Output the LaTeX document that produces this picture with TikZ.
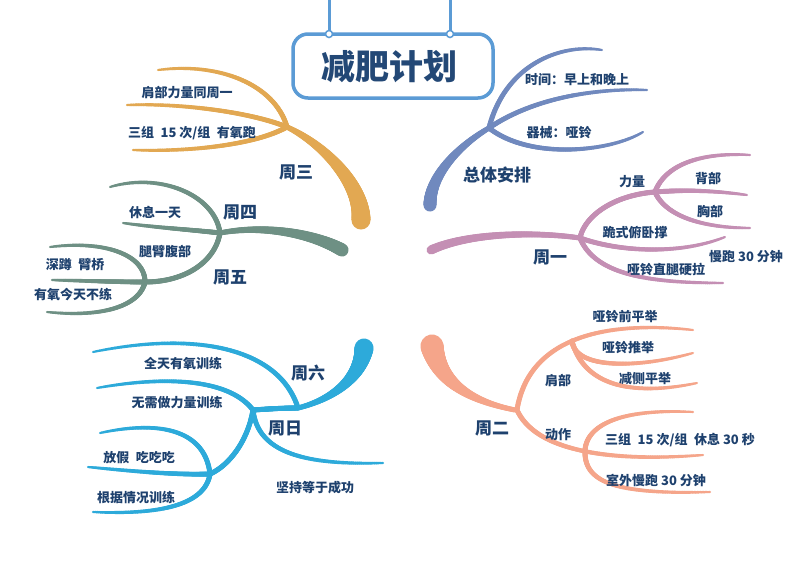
\documentclass[tikz,border=0pt]{standalone}
\usepackage{fontspec}
\setmainfont{Noto Sans CJK SC}
\definecolor{gold}{RGB}{226,168,82}
\definecolor{sage}{RGB}{110,144,132}
\definecolor{slate}{RGB}{112,137,190}
\definecolor{mauve}{RGB}{196,143,180}
\definecolor{salmonc}{RGB}{245,165,138}
\definecolor{cyanc}{RGB}{45,170,218}
\definecolor{boxblue}{RGB}{91,155,213}
\definecolor{navy}{RGB}{30,65,110}
\definecolor{titlenavy}{RGB}{35,72,118}
\makeatletter
\def\br@parse#1,#2,#3,#4,#5,#6,#7,#8\relax{%
 \def\brAx{#1}\def\brAy{#2}\def\brBx{#3}\def\brBy{#4}%
 \def\brCx{#5}\def\brCy{#6}\def\brDx{#7}\def\brDy{#8}}
\newcommand\brush[5]{%
 \br@parse#5\relax
 \foreach \brI in {0,...,100}{%
  \pgfmathsetmacro\brT{\brI/100}%
  \pgfmathsetmacro\brU{1-\brT}%
  \pgfmathsetmacro\brX{\brU*\brU*\brU*\brAx+3*\brU*\brU*\brT*\brBx+3*\brU*\brT*\brT*\brCx+\brT*\brT*\brT*\brDx}%
  \pgfmathsetmacro\brY{\brU*\brU*\brU*\brAy+3*\brU*\brU*\brT*\brBy+3*\brU*\brT*\brT*\brCy+\brT*\brT*\brT*\brDy}%
  \pgfmathsetmacro\brW{#2+(#3-#2)*pow(\brT+0.001,#4)}%
  \ifnum\brI>0
   \draw[#1,line width=\brW pt,line cap=round] (\brPX,\brPY) -- (\brX,\brY);
  \fi
  \xdef\brPX{\brX}\xdef\brPY{\brY}%
 }}
\makeatother
\tikzset{
 lab/.style={text=navy,font=\bfseries\fontsize{13}{15}\selectfont,inner sep=0pt},
 head/.style={text=navy,font=\bfseries\fontsize{17}{19}\selectfont,inner sep=0pt},
 titlebox/.style={draw=boxblue,line width=3.5pt,fill=white,rounded corners=15pt},
 hanger/.style={draw=boxblue,line width=3pt},
 ring/.style={draw=boxblue,line width=1.5pt,fill=white}
}
\begin{document}
\begin{tikzpicture}[x=1pt,y=-1pt]
\useasboundingbox (0,0) rectangle (800,566);
\fill[white] (0,0) rectangle (800,566);

% ---- gold: 周三
\brush{gold}{5}{19}{1.1}{287,127,325,145,362,185,361,220}
\brush{gold}{1.5}{5}{0.4}{158,70,220,62,275,85,287,127}
\brush{gold}{1.5}{5}{0.4}{127,105,180,103,250,112,287,127}
\brush{gold}{1.5}{5}{0.4}{133,150,190,152,255,145,287,127}

% ---- sage: 周四 / 周五
\brush{sage}{5}{13}{1.3}{220,233,260,225,310,232,342,250}
\brush{sage}{1.5}{5}{0.4}{110,187,160,172,215,195,220,233}
\brush{sage}{1.5}{5}{0.4}{123,223,160,228,195,230,220,233}
\brush{sage}{5}{5}{1}{145,282,185,282,215,262,220,233}
\brush{sage}{1.5}{5}{0.4}{50,247,105,240,145,255,145,282}
\brush{sage}{1.5}{5}{0.4}{52,280,90,281,120,282,145,282}
\brush{sage}{1.5}{5}{0.4}{47,312,105,318,140,305,145,282}

% ---- slate: 总体安排
\brush{slate}{5}{13}{1.2}{489,128,460,145,430,175,430,205}
\brush{slate}{1.5}{5}{0.4}{602,50,560,43,505,65,489,128}
\brush{slate}{1.5}{5}{0.4}{647,90,590,88,530,100,489,128}
\brush{slate}{1.5}{5}{0.4}{643,132,610,152,530,160,489,128}

% ---- mauve: 周一
\brush{mauve}{5}{9}{1.4}{580,238,540,232,470,232,431,250}
\brush{mauve}{5}{5}{1}{655,192,615,195,585,215,580,238}
\brush{mauve}{1.5}{5}{0.4}{750,155,700,152,665,165,655,192}
\brush{mauve}{1.5}{5}{0.4}{747,195,710,190,680,190,655,192}
\brush{mauve}{1.5}{5}{0.4}{750,228,700,228,665,215,655,192}
\brush{mauve}{1.5}{5}{0.4}{725,237,680,255,620,252,580,238}
\brush{mauve}{1.5}{5}{0.4}{723,283,650,283,595,275,580,238}

% ---- salmon: 周二
\brush{salmonc}{5}{23}{1.9}{515,410,475,402,440,385,432,346}
\brush{salmonc}{1.5}{5}{0.4}{693,330,620,322,530,330,517,410}
\brush{salmonc}{1.5}{5}{0.4}{693,353,640,368,575,370,572,341}
\brush{salmonc}{1.5}{5}{0.4}{697,383,640,395,585,390,572,341}
\brush{salmonc}{1.5}{5}{0.4}{703,455,640,460,540,460,517,410}
\brush{salmonc}{1.5}{5}{0.4}{693,412,610,408,585,430,585,452}
\brush{salmonc}{1.5}{5}{0.4}{710,492,610,495,585,480,585,452}

% ---- cyan: 周六 / 周日
\brush{cyanc}{5}{19}{1.8}{298,408,330,400,360,380,364,348}
\brush{cyanc}{1.5}{5}{0.4}{93,352,200,330,280,350,298,408}
\brush{cyanc}{5}{5}{1}{253,410,268,409,283,408,298,408}
\brush{cyanc}{1.5}{5}{0.4}{97,388,170,375,230,380,253,410}
\brush{cyanc}{1.5}{5}{0.4}{383,463,310,465,258,455,253,410}
\brush{cyanc}{5}{5}{1}{210,474,230,465,248,440,253,410}
\brush{cyanc}{1.5}{5}{0.4}{100,433,160,420,205,430,210,474}
\brush{cyanc}{1.5}{5}{0.4}{88,467,140,472,180,475,210,474}
\brush{cyanc}{1.5}{5}{0.4}{93,512,160,515,205,505,210,474}

% ---- title
\coordinate (hL) at (329,0);
\coordinate (hR) at (450,0);
\coordinate (kL) at (329,34);
\coordinate (kR) at (450,34);
\draw[hanger] (hL) -- (kL);
\draw[hanger] (hR) -- (kR);
\path[titlebox] (293,34) rectangle (493,98);
\node[ring,circle,inner sep=0pt,minimum size=7pt] (ringL) at (kL) {};
\node[ring,circle,inner sep=0pt,minimum size=7pt] (ringR) at (kR) {};
\node[text=titlenavy,font=\bfseries\fontsize{34}{36}\selectfont,inner sep=0pt] (title) at (389,67) {减肥计划};

% ---- labels
\node[lab] (wed1) at (187,93) {肩部力量同周一};
\node[lab] (wed2) at (192,133) {三组\hspace{0.5em}15 次/组\hspace{0.5em}有氧跑};
\node[head] (wed) at (296,172) {周三};
\node[lab] (thu1) at (155,212) {休息一天};
\node[head] (thu) at (240,212) {周四};
\node[lab] (fri0) at (165,252) {腿臂腹部};
\node[head] (fri) at (230,277) {周五};
\node[lab] (fri1) at (75,265) {深蹲\hspace{0.5em}臂桥};
\node[lab] (fri2) at (73,295) {有氧今天不练};

\node[lab] (all1) at (577,80) {时间：早上和晚上};
\node[lab] (all2) at (559,133) {器械：哑铃};
\node[head] (all) at (497,175) {总体安排};

\node[lab] (mon1) at (632,182) {力量};
\node[lab] (mon11) at (708,178) {背部};
\node[lab] (mon12) at (710,212) {胸部};
\node[lab] (mon2) at (635,233) {跪式俯卧撑};
\node[head] (mon) at (550,257) {周一};
\node[lab] (mon3) at (746,257) {慢跑 30 分钟};
\node[lab] (mon4) at (666,270) {哑铃直腿硬拉};

\node[lab] (tue11) at (625,317) {哑铃前平举};
\node[lab] (tue12) at (628,348) {哑铃推举};
\node[lab] (tue13) at (645,379) {减侧平举};
\node[lab] (tue1) at (558,380) {肩部};
\node[head] (tue) at (492,428) {周二};
\node[lab] (tue2) at (558,435) {动作};
\node[lab,anchor=west] (tue21) at (605,440) {三组\hspace{0.5em}15 次/组\hspace{0.5em}休息 30 秒};
\node[lab] (tue22) at (656,480) {室外慢跑 30 分钟};

\node[head] (sat) at (308,373) {周六};
\node[lab] (sat1) at (183,363) {全天有氧训练};
\node[lab] (sat2) at (177,402) {无需做力量训练};
\node[head] (sun) at (285,428) {周日};
\node[lab] (sun1) at (139,458) {放假\hspace{0.5em}吃吃吃};
\node[lab] (sun2) at (136,497) {根据情况训练};
\node[lab] (sun3) at (315,488) {坚持等于成功};
\end{tikzpicture}
\end{document}
